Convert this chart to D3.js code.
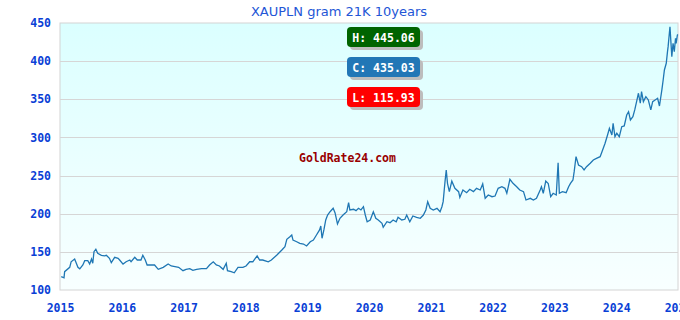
<!DOCTYPE html>
<html>
<head>
<meta charset="utf-8">
<script src="https://cdn.jsdelivr.net/npm/d3@7"></script>
<style>
  body { margin: 0; background: #fff; }
  svg { display: block; }
</style>
</head>
<body>
<div id="chart"></div>
<script>
// decimal years and prices
var years = [
  2015.02, 2015.065, 2015.075, 2015.157, 2015.18, 2015.237, 2015.29, 2015.32, 2015.37, 2015.40,
  2015.45, 2015.48, 2015.51, 2015.53, 2015.55, 2015.58, 2015.61, 2015.67, 2015.72, 2015.75,
  2015.80, 2015.83, 2015.885, 2015.94, 2015.965, 2016.02, 2016.07, 2016.13, 2016.15, 2016.21,
  2016.25, 2016.31, 2016.34, 2016.38, 2016.41, 2016.53, 2016.59, 2016.67, 2016.75, 2016.80,
  2016.86, 2016.92, 2016.99, 2017.04, 2017.10, 2017.15, 2017.21, 2017.29, 2017.37, 2017.42,
  2017.48, 2017.53, 2017.58, 2017.64, 2017.69, 2017.71, 2017.77, 2017.82, 2017.88, 2017.96,
  2018.01, 2018.07, 2018.12, 2018.19, 2018.23, 2018.28, 2018.37, 2018.42, 2018.51, 2018.59,
  2018.64, 2018.67, 2018.72, 2018.75, 2018.77, 2018.83, 2018.88, 2018.94, 2018.99, 2019.05,
  2019.10, 2019.15, 2019.20, 2019.22, 2019.24, 2019.27, 2019.30, 2019.33, 2019.37, 2019.42,
  2019.45, 2019.49, 2019.53, 2019.58, 2019.64, 2019.67, 2019.69, 2019.75, 2019.79, 2019.83,
  2019.87, 2019.91, 2019.94, 2019.97, 2020.02, 2020.07, 2020.11, 2020.15, 2020.21, 2020.23,
  2020.29, 2020.34, 2020.39, 2020.44, 2020.47, 2020.53, 2020.58, 2020.61, 2020.66, 2020.71,
  2020.77, 2020.83, 2020.88, 2020.92, 2020.95, 2020.99, 2021.04, 2021.10, 2021.15, 2021.18,
  2021.20, 2021.23, 2021.25, 2021.27, 2021.30, 2021.34, 2021.39, 2021.45, 2021.47, 2021.52,
  2021.58, 2021.63, 2021.69, 2021.74, 2021.80, 2021.84, 2021.88, 2021.93, 2021.99, 2022.04,
  2022.09, 2022.15, 2022.20, 2022.23, 2022.28, 2022.33, 2022.39, 2022.44, 2022.50, 2022.54,
  2022.61, 2022.66, 2022.71, 2022.77, 2022.79, 2022.82, 2022.86, 2022.90, 2022.94, 2022.98,
  2023.03, 2023.06, 2023.08, 2023.13, 2023.19, 2023.23, 2023.26, 2023.30, 2023.32, 2023.35,
  2023.39, 2023.44, 2023.48, 2023.52, 2023.58, 2023.63, 2023.68, 2023.74, 2023.77, 2023.82,
  2023.86, 2023.89, 2023.93, 2023.95, 2023.98, 2024.01, 2024.05, 2024.09, 2024.13, 2024.17,
  2024.20, 2024.23, 2024.27, 2024.30, 2024.33, 2024.36, 2024.39, 2024.41, 2024.44, 2024.48,
  2024.52, 2024.56, 2024.59, 2024.63, 2024.67, 2024.70, 2024.74, 2024.76, 2024.78, 2024.81,
  2024.83, 2024.84, 2024.86, 2024.87, 2024.90, 2024.92, 2024.94, 2024.96, 2024.97, 2024.99,
  2025.00
];
var prices = [
  117.4, 115.93, 124, 129.7, 137, 140.6, 129.7, 127.7, 132.8, 138.4,
  138.4, 134, 140.6, 135, 150.2, 153.3, 148, 145.5, 144.8, 145.5,
  141.5, 135.8, 142.8, 141.5, 139.3, 134, 137, 139.3, 137, 142.8,
  139.3, 139.3, 145.5, 139.3, 132.8, 132.8, 127.1, 129.7, 134, 131.5,
  130.6, 129.7, 125.3, 127.1, 128, 125.8, 127.1, 128, 128, 132.8,
  137, 132.8, 131.5, 127.1, 135, 125.3, 124, 122.6, 129.7, 129.7,
  131.5, 137, 137, 144.8, 139.3, 139.3, 137, 139.3, 145.9, 152.4,
  156.8, 166.5, 169.9, 172.1, 165.5, 163.3, 161.2, 160.3, 157.7, 163.3,
  165.5, 172.1, 178.7, 183.9, 167.8, 178.7, 191.8, 198.3, 202.6, 207.1,
  201.3, 186.5, 194, 198.3, 202.6, 214.5, 204.9, 205.8, 204, 207.1,
  204.9, 209.2, 198.3, 189.5, 191.8, 202.6, 194, 191.8, 187.4, 182.2,
  189.5, 188.2, 191.8, 189.5, 195.3, 191.8, 192.7, 198.3, 189.5, 197,
  195.3, 194, 198.3, 204.9, 215.8, 207.1, 204.9, 207.1, 202.6, 209.2,
  215.8, 242, 257.3, 239.8, 228.9, 242.7, 233.3, 228.9, 221.5, 231.1,
  227.6, 232, 228.9, 233.3, 231.1, 239, 220.2, 224.5, 222.3, 223.2,
  233.3, 235.4, 233.3, 226.8, 245.1, 239.8, 235.4, 231.1, 228.9, 218,
  220.2, 218, 220.2, 231.1, 235.4, 226.8, 242.7, 239.6, 222.3, 226.8,
  224.5, 266.9, 226.8, 228.9, 227.6, 235.4, 239.8, 244.2, 255.1, 274.8,
  263.9, 261.6, 257.3, 261.6, 266.1, 270.4, 272.6, 274.8, 281.3, 292.3,
  303.2, 312, 303.2, 318.5, 301, 305.4, 301, 314.1, 315, 329.4,
  333.7, 322.9, 327.2, 336, 346.9, 357.9, 344.8, 360, 346.9, 353.4,
  349.1, 336, 346.9, 349.1, 351.3, 341.2, 363.1, 375.3, 388.4, 397.2,
  412.4, 419, 436.5, 445.06, 405.9, 423.4, 412.4, 430, 423.4, 434.3,
  435.03
];
var yearTicks = [2015, 2016, 2017, 2018, 2019, 2020, 2021, 2022, 2023, 2024, 2025];
var priceTicks = [100, 150, 200, 250, 300, 350, 400, 450];
var badgeLabels = ["H: 445.06", "C: 435.03", "L: 115.93"];
var badgeColors = ["#006400", "#2277b6", "#ff0000"];

var W = 680, H = 320;
var margin = {top: 23, right: 2, bottom: 30, left: 60};
var pw = W - margin.left - margin.right, ph = H - margin.top - margin.bottom;
var mono = "'DejaVu Sans Mono', monospace";
var blue = "#0a3fd6";

var svg = d3.select("#chart").append("svg")
    .attr("width", W).attr("height", H);

// background gradient of the plot
var grad = svg.append("defs").append("linearGradient")
    .attr("id", "bg").attr("x1", 0).attr("y1", 0).attr("x2", 0).attr("y2", 1);
grad.append("stop").attr("offset", "0%").attr("stop-color", "#dbffff");
grad.append("stop").attr("offset", "100%").attr("stop-color", "#f8ffff");

svg.append("text")
    .attr("x", 339).attr("y", 16)
    .attr("text-anchor", "middle")
    .attr("font-family", "'DejaVu Sans', sans-serif")
    .attr("font-size", 13)
    .attr("fill", "#2356d6")
    .text("XAUPLN gram 21K 10years");

var g = svg.append("g").attr("transform", "translate(" + margin.left + "," + margin.top + ")");

var x = d3.scaleLinear().domain([2015, 2025]).range([0, pw]);
var y = d3.scaleLinear().domain([100, 450]).range([ph, 0]);

g.append("rect")
    .attr("width", pw).attr("height", ph)
    .attr("fill", "url(#bg)")
    .attr("stroke", "#d4d4d4");

// grid
g.append("g").selectAll("line")
    .data(priceTicks.slice(1, -1))
    .enter().append("line")
    .attr("x1", 0).attr("x2", pw)
    .attr("y1", function(d) { return Math.round(y(d)) + 0.5; })
    .attr("y2", function(d) { return Math.round(y(d)) + 0.5; })
    .attr("stroke", "#d6d6d6");

// axes, text only
var yAxis = g.append("g")
    .call(d3.axisLeft(y).tickValues(priceTicks).tickSize(0).tickPadding(9));
var xAxis = g.append("g")
    .attr("transform", "translate(0," + ph + ")")
    .call(d3.axisBottom(x).tickValues(yearTicks).tickFormat(d3.format("d")).tickSize(0).tickPadding(14));
[yAxis, xAxis].forEach(function(a) {
  a.select(".domain").remove();
  a.selectAll("text")
      .attr("font-family", mono)
      .attr("font-weight", "bold")
      .attr("font-size", 11.5)
      .attr("fill", blue);
});

// watermark
g.append("text")
    .attr("x", 239).attr("y", 138.5)
    .attr("font-family", mono)
    .attr("font-weight", "bold")
    .attr("font-size", 11.5)
    .attr("fill", "#990000")
    .text("GoldRate24.com");

// price line
var line = d3.line()
    .x(function(d, i) { return x(years[i]); })
    .y(function(d) { return y(d); });
g.append("path")
    .datum(prices)
    .attr("fill", "none")
    .attr("stroke", "#1f77b4")
    .attr("stroke-width", 1.3)
    .attr("d", line);

// high / close / low badges
var badges = svg.append("g").selectAll("g")
    .data(badgeLabels)
    .enter().append("g")
    .attr("transform", function(d, i) { return "translate(347," + (27 + i * 30) + ")"; });
badges.append("rect")
    .attr("x", 3).attr("y", 3)
    .attr("width", 73).attr("height", 20).attr("rx", 4)
    .attr("fill", "#bdbdbd");
badges.append("rect")
    .attr("width", 73).attr("height", 20).attr("rx", 4)
    .attr("fill", function(d, i) { return badgeColors[i]; });
badges.append("text")
    .attr("x", 36.5).attr("y", 15)
    .attr("text-anchor", "middle")
    .attr("font-family", mono)
    .attr("font-weight", "bold")
    .attr("font-size", 11.5)
    .attr("fill", "#fff")
    .text(function(d) { return d; });
</script>
</body>
</html>
